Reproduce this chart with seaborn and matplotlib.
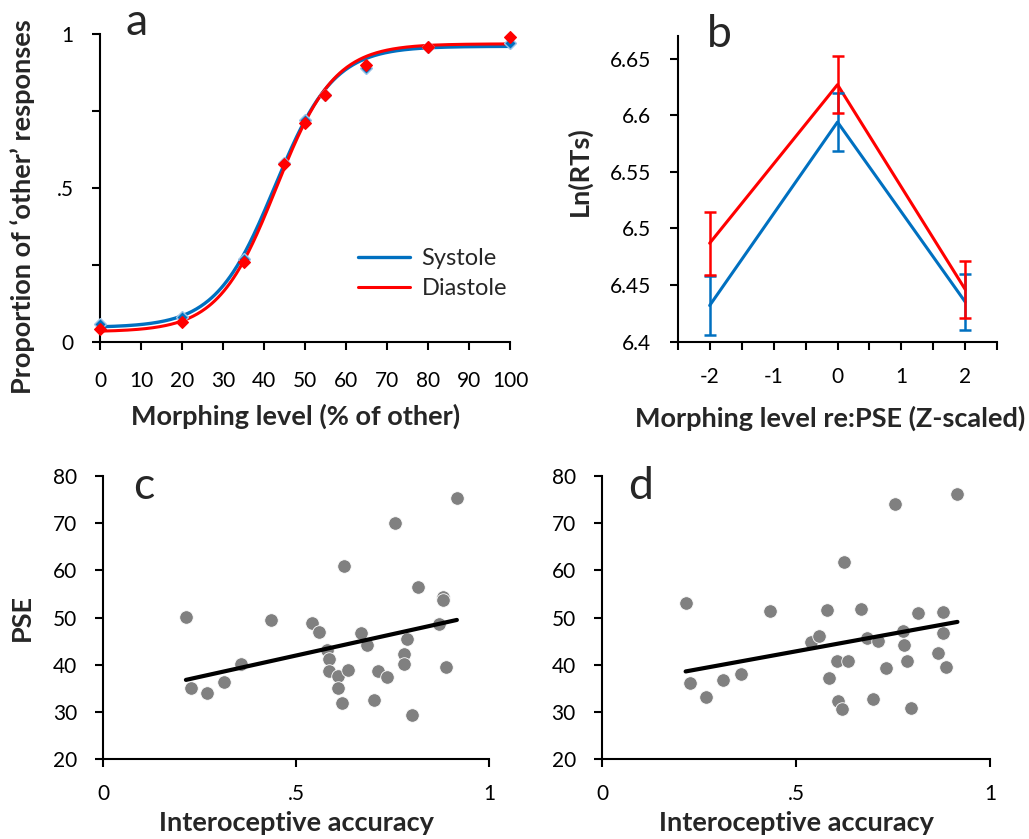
import numpy as np
import matplotlib
matplotlib.use("Agg")
import matplotlib.pyplot as plt
import seaborn as sns
import pandas as pd

# ---------------- data ----------------
# panel a: psychometric data
morph_levels = [0, 20, 35, 45, 50, 55, 65, 80, 100]
systole_prop = [0.058, 0.082, 0.27, 0.58, 0.721, 0.802, 0.89, 0.957, 0.970]
diastole_prop = [0.041, 0.066, 0.26, 0.577, 0.710, 0.802, 0.899, 0.959, 0.991]
# fitted logistic parameters: [lower, upper, midpoint, scale]
systole_fit = [0.047, 0.960, 42.6, 7.2]
diastole_fit = [0.033, 0.968, 43.0, 7.1]

# panel b: log RTs
z_levels = [-2, 0, 2]
systole_rt = [6.432, 6.594, 6.435]
systole_err = [0.026, 0.026, 0.025]
diastole_rt = [6.487, 6.627, 6.446]
diastole_err = [0.028, 0.025, 0.025]

# panel c: PSE vs interoceptive accuracy
c_acc = [0.214, 0.226, 0.268, 0.313, 0.357, 0.434, 0.541, 0.560, 0.579, 0.585,
         0.585, 0.607, 0.609, 0.619, 0.624, 0.635, 0.667, 0.684, 0.701, 0.712,
         0.734, 0.756, 0.779, 0.779, 0.788, 0.799, 0.815, 0.870, 0.881, 0.881,
         0.888, 0.916]
c_pse = [50.1, 35.0, 34.0, 36.3, 40.1, 49.4, 48.8, 47.0, 43.1, 41.2,
         38.6, 37.7, 35.2, 31.9, 60.9, 38.9, 46.8, 44.2, 32.6, 38.6,
         37.5, 70.0, 42.4, 40.2, 45.5, 29.4, 56.4, 48.6, 54.4, 53.7,
         39.5, 75.3]

# panel d
d_acc = [0.215, 0.227, 0.267, 0.312, 0.357, 0.433, 0.538, 0.559, 0.580, 0.585,
         0.605, 0.609, 0.619, 0.623, 0.635, 0.667, 0.684, 0.699, 0.712, 0.733,
         0.756, 0.776, 0.778, 0.787, 0.796, 0.815, 0.867, 0.880, 0.880, 0.887,
         0.916]
d_pse = [53.0, 36.1, 33.1, 36.8, 38.0, 51.3, 44.9, 46.1, 51.6, 37.2,
         40.8, 32.3, 30.6, 61.8, 40.8, 51.8, 45.6, 32.7, 45.1, 39.4,
         74.1, 47.2, 44.2, 40.9, 30.9, 51.0, 42.6, 51.1, 46.7, 39.5,
         76.1]

a_yticks = [0, 0.25, 0.5, 0.75, 1]
a_yticklabels = ["0", "", ".5", "", "1"]
b_xticks = [-2.5, -2, -1.5, -1, -0.5, 0, 0.5, 1, 1.5, 2, 2.5]
b_xticklabels = ["", "-2", "", "-1", "", "0", "", "1", "", "2", ""]
b_yticks = [6.4, 6.45, 6.5, 6.55, 6.6, 6.65]
b_yticklabels = ["6.4", "6.45", "6.5", "6.55", "6.6", "6.65"]
cd_xticks = [0, 0.5, 1]
cd_xticklabels = ["0", ".5", "1"]

BLUE = "#0070C0"
RED = "#FF0000"
GRAY = "#808080"

# ---------------- style ----------------
sns.set_style("ticks")
plt.rcParams["font.family"] = ["Lato", "DejaVu Sans"]
plt.rcParams["axes.unicode_minus"] = False

TICK_FS = 15
LABEL_FS = 19.5
LEGEND_FS = 17
LETTER_FS = 32

fig = plt.figure(figsize=(10.29, 8.39), dpi=100)
axA = fig.add_axes([0.0972, 0.5924, 0.3984, 0.3671])
axB = fig.add_axes([0.6586, 0.5927, 0.3106, 0.3644])
axC = fig.add_axes([0.1004, 0.0950, 0.3751, 0.3377])
axD = fig.add_axes([0.5853, 0.0950, 0.3768, 0.3377])


def style_axes(ax, xpad=12):
    for s in ["top", "right"]:
        ax.spines[s].set_visible(False)
    for s in ["left", "bottom"]:
        ax.spines[s].set_linewidth(1.5)
        ax.spines[s].set_color("black")
    ax.tick_params(axis="both", direction="out", length=6, width=1.5,
                   color="black", labelsize=TICK_FS, labelcolor="black")
    ax.tick_params(axis="y", pad=13)
    ax.tick_params(axis="x", pad=xpad)


# ---------------- panel a ----------------
xs = np.linspace(0, 100, 401)


def logistic(p):
    lo, hi, m, s = p
    return lo + (hi - lo) / (1 + np.exp(-(xs - m) / s))


sns.lineplot(x=xs, y=logistic(systole_fit), ax=axA, color=BLUE, lw=2.4,
             label="Systole")
sns.lineplot(x=xs, y=logistic(diastole_fit), ax=axA, color=RED, lw=2.2,
             label="Diastole")
axA.plot(morph_levels, systole_prop, ls="none", marker="D", ms=6.5,
         mfc=BLUE, mec="#9DC3E6", mew=1.0, clip_on=False, zorder=4)
axA.plot(morph_levels, diastole_prop, ls="none", marker="D", ms=6.5,
         mfc=RED, mec=RED, mew=0.8, clip_on=False, zorder=5)
axA.set_xlim(0, 100)
axA.set_ylim(0, 1)
axA.set_xticks(range(0, 101, 10))
axA.set_yticks(a_yticks)
axA.set_yticklabels(a_yticklabels)
style_axes(axA, xpad=15)
axA.set_xlabel("Morphing level (% of other)", fontsize=LABEL_FS,
               fontweight="bold", va="center")
axA.xaxis.set_label_coords(0.478, -0.240)
axA.set_ylabel("Proportion of \u2018other\u2019 responses", fontsize=LABEL_FS,
               fontweight="bold", va="center")
axA.yaxis.set_label_coords(-0.188, 0.438)
leg = axA.legend(loc="center left", bbox_to_anchor=(0.629, 0.222), frameon=False,
                 fontsize=LEGEND_FS, handlelength=2.2, handletextpad=0.5,
                 borderpad=0, borderaxespad=0, labelspacing=0.4)
axA.text(0.061, 0.997, "a", transform=axA.transAxes, fontsize=LETTER_FS,
         ha="left", va="baseline")

# ---------------- panel b ----------------
sns.lineplot(x=z_levels, y=systole_rt, ax=axB, color=BLUE, lw=2.2)
sns.lineplot(x=z_levels, y=diastole_rt, ax=axB, color=RED, lw=2.2)
axB.errorbar(z_levels, systole_rt, yerr=systole_err, fmt="none", ecolor=BLUE,
             elinewidth=1.8, capsize=4.5, capthick=1.8)
axB.errorbar(z_levels, diastole_rt, yerr=diastole_err, fmt="none", ecolor=RED,
             elinewidth=1.8, capsize=4.5, capthick=1.8)
axB.set_xlim(-2.5, 2.5)
axB.set_ylim(6.4, 6.67)
axB.set_xticks(b_xticks)
axB.set_xticklabels(b_xticklabels)
axB.set_yticks(b_yticks)
axB.set_yticklabels(b_yticklabels)
style_axes(axB)
axB.set_xlabel("Morphing level re:PSE (Z-scaled)", fontsize=LABEL_FS,
               fontweight="bold", va="center")
axB.xaxis.set_label_coords(0.477, -0.250)
axB.set_ylabel("Ln(RTs)", fontsize=LABEL_FS, fontweight="bold", va="center")
axB.yaxis.set_label_coords(-0.309, 0.558)
axB.text(0.0907, 0.965, "b", transform=axB.transAxes, fontsize=LETTER_FS,
         ha="left", va="baseline")

# ---------------- panels c, d ----------------
for ax, acc, pse, letter, lx in [(axC, c_acc, c_pse, "c", 0.0777),
                                 (axD, d_acc, d_pse, "d", 0.067)]:
    df = pd.DataFrame({"acc": acc, "pse": pse})
    sns.regplot(data=df, x="acc", y="pse", ax=ax, ci=None, truncate=True,
                scatter_kws=dict(s=95, color=GRAY, edgecolor="white",
                                 linewidths=0.6, alpha=1, zorder=2),
                line_kws=dict(color="black", lw=3.0, zorder=3))
    ax.set_xlim(0, 1)
    ax.set_ylim(20, 80)
    ax.set_xticks(cd_xticks)
    ax.set_xticklabels(cd_xticklabels)
    ax.set_yticks(range(20, 81, 10))
    style_axes(ax)
    ax.set_xlabel("Interoceptive accuracy", fontsize=LABEL_FS,
                  fontweight="bold", va="center")
    ax.xaxis.set_label_coords(0.50, -0.225)
    ax.set_ylabel("")
    ax.text(lx, 0.918, letter, transform=ax.transAxes, fontsize=LETTER_FS,
            ha="left", va="baseline")

axC.set_ylabel("PSE", fontsize=LABEL_FS, fontweight="bold", va="center")
axC.yaxis.set_label_coords(-0.2106, 0.5005)

fig.savefig("out.png", dpi=100)
